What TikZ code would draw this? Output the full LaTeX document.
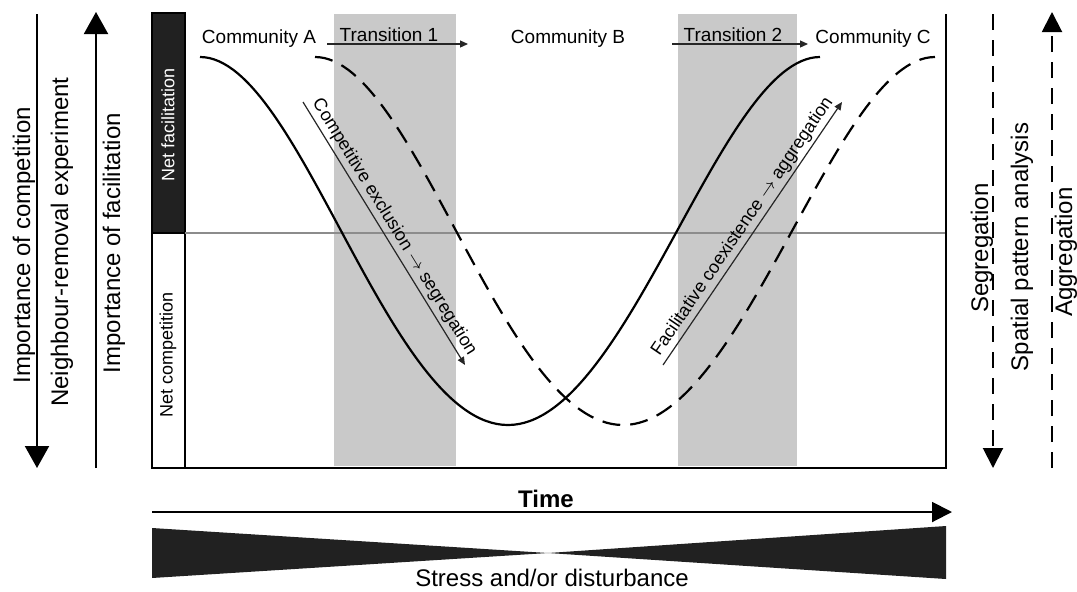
\documentclass[tikz,border=0pt]{standalone}
\usepackage{fontspec}
\setmainfont{Liberation Sans}
\usetikzlibrary{arrows.meta,positioning,calc}
\definecolor{bandgray}{gray}{0.79}
\definecolor{bardark}{gray}{0.13}
\definecolor{midline}{gray}{0.55}

\begin{document}
\begin{tikzpicture}[
    x=0.5pt, y=-0.5pt,
    axislabel/.style={font=\fontsize{12}{14}\selectfont, rotate=90, inner sep=0pt},
    toplabel/.style={font=\fontsize{9.5}{11}\selectfont, inner sep=1pt, anchor=base},
    barlabel/.style={font=\fontsize{9}{10}\selectfont, rotate=90, inner sep=0pt},
    slopelabel/.style={font=\fontsize{9}{10}\selectfont, sloped, above, inner sep=1.5pt},
    bigarrow/.style={-{Triangle[length=11pt,width=12pt]}, line width=1pt},
    timearrow/.style={-{Triangle[length=10pt,width=10pt]}, line width=1pt},
    dasharrow/.style={-{Triangle[length=10pt,width=10pt]}, line width=1pt, dash pattern=on 8pt off 5pt},
    thinarrow/.style={-{Triangle[length=4pt,width=3.5pt]}, line width=0.6pt, draw=black!85},
    frame/.style={line width=1pt},
    curveA/.style={line width=1.1pt},
    curveB/.style={line width=1.1pt, dash pattern=on 9pt off 5pt}
]
\useasboundingbox (0,0) rectangle (1077,591);

\fill[bandgray] (334,14) rectangle (456,466);
\fill[bandgray] (678,14) rectangle (797,466);

\draw[frame, fill=bardark] (152,13) rectangle (185,233);
\draw[frame] (152,233) rectangle (185,468);
\draw[midline, line width=0.6pt] (185,233) -- (946,233);
\draw[frame] (152,468) -- (946,468) -- (946,14);

\draw[curveA] (200,57) .. controls (300,57) and (388,425) .. (508,425)
    .. controls (628,425) and (720,57) .. (820,57);
\draw[curveB] (315,57) .. controls (415,57) and (503,425) .. (623,425)
    .. controls (743,425) and (835,57) .. (935,57);

\node[toplabel] (comA) at (259,43) {Community A};
\node[toplabel] (comB) at (568,43) {Community B};
\node[toplabel] (comC) at (873,43) {Community C};

\coordinate (t1start) at (327,44);
\coordinate (t1end) at (468,44);
\coordinate (t2start) at (672,44);
\coordinate (t2end) at (808,44);
\draw[thinarrow] (t1start) -- (t1end);
\draw[thinarrow] (t2start) -- (t2end);
\node[toplabel] (trans1) at (389,41) {Transition 1};
\node[toplabel] (trans2) at (733,41) {Transition 2};

\coordinate (exclA) at (303,102);
\coordinate (exclB) at (465,365);
\coordinate (coexA) at (663,365);
\coordinate (coexB) at (842,102);
\draw[thinarrow] (exclA) -- node[slopelabel] (excl) {Competitive exclusion $\rightarrow$ segregation} (exclB);
\draw[thinarrow] (coexA) -- node[slopelabel] (coex) {Facilitative coexistence $\rightarrow$ aggregation} (coexB);

\node[barlabel, text=white] (netfac) at (168,125) {Net facilitation};
\node[barlabel] (netcomp) at (168,355) {Net competition};

\coordinate (compTop) at (37,14);
\coordinate (compBot) at (37,468);
\coordinate (facBot) at (96,468);
\coordinate (facTop) at (96,12);
\draw[bigarrow] (compTop) -- (compBot);
\draw[bigarrow] (facBot) -- (facTop);
\node[axislabel] (impcomp) at (24,245) {Importance of competition};
\node[axislabel] (removal) at (62,242) {Neighbour-removal experiment};
\node[axislabel] (impfac) at (114,243) {Importance of facilitation};

\coordinate (segTop) at (993,14);
\coordinate (segBot) at (993,468);
\coordinate (aggBot) at (1052,468);
\coordinate (aggTop) at (1052,12);
\draw[dasharrow] (segTop) -- (segBot);
\draw[dasharrow] (aggBot) -- (aggTop);
\node[axislabel] (seg) at (982,248) {Segregation};
\node[axislabel] (spatial) at (1022,247) {Spatial pattern analysis};
\node[axislabel] (agg) at (1066,252) {Aggregation};

\coordinate (timeA) at (152,512);
\coordinate (timeB) at (952,512);
\draw[timearrow] (timeA) -- (timeB);
\node[font=\fontsize{12}{14}\selectfont\bfseries, anchor=base] (time) at (546,507) {Time};

\fill[bardark] (152,528) -- (548,553) -- (152,578) -- cycle;
\fill[bardark] (946,526) -- (548,553) -- (946,579) -- cycle;
\node[font=\fontsize{12}{14}\selectfont] (stress) at (552,578) {Stress and/or disturbance};

\end{tikzpicture}
\end{document}
